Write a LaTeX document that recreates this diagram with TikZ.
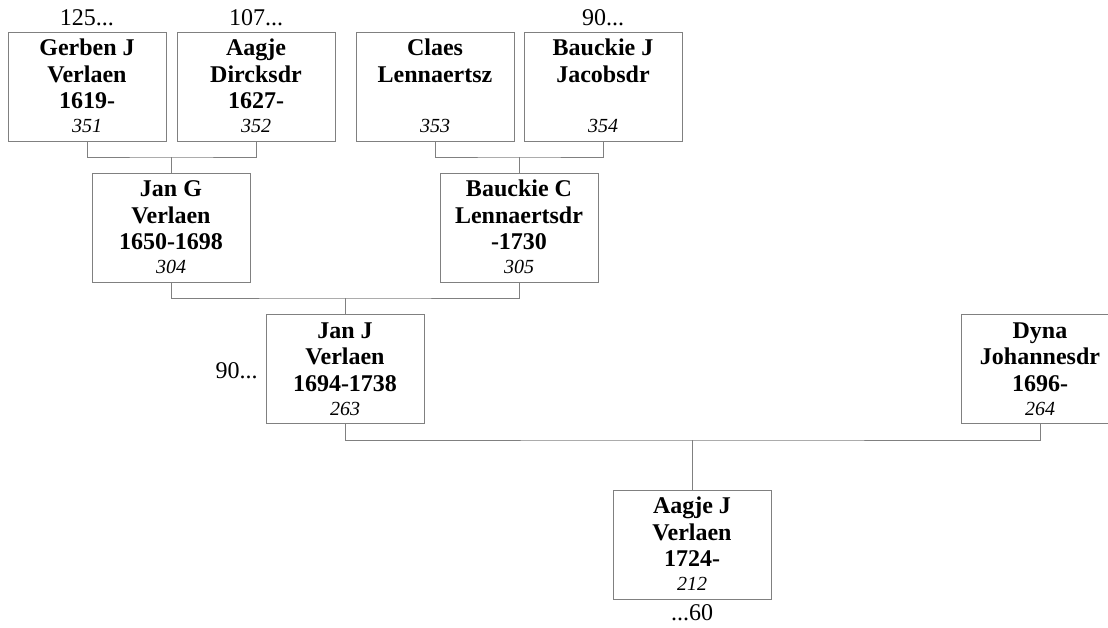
\documentclass[tikz,border=0pt]{standalone}
\usepackage{fontspec}
\setmainfont{Liberation Serif}
\definecolor{linegray}{RGB}{128,128,128}
\tikzset{
  pbox/.style={draw=linegray, line width=0.75pt, minimum width=118.5pt, minimum height=81.75pt, inner sep=0pt},
  nametext/.style={font=\fontsize{18}{20}\selectfont\bfseries, anchor=base, inner sep=0pt},
  numtext/.style={font=\fontsize{15}{17}\selectfont\itshape, anchor=base, inner sep=0pt},
  reftext/.style={font=\fontsize{18}{20}\selectfont, inner sep=0pt},
  conn/.style={draw=linegray, line width=0.75pt}
}
\newcommand{\personbox}[7]{%
  \node[pbox] (#1) at (#2,#3) {};
  \node[nametext] (#1a) at ([yshift=-18pt]#1.north) {#4};
  \node[nametext] (#1b) at ([yshift=-37.9pt]#1.north) {#5};
  \if\relax\detokenize{#6}\relax\else
  \node[nametext] (#1c) at ([yshift=-57.75pt]#1.north) {#6};
  \fi
  \node[numtext] (#1d) at ([yshift=-75.75pt]#1.north) {#7};
}
\begin{document}
\begin{tikzpicture}[x=0.75pt,y=-0.75pt]
\useasboundingbox (0,0) rectangle (1108,628);
% generation 1
\personbox{p351}{87}{86.5}{Gerben J}{Verlaen}{1619-}{351}
\personbox{p352}{256}{86.5}{Aagje}{Dircksdr}{1627-}{352}
\personbox{p353}{435}{86.5}{Claes}{Lennaertsz}{}{353}
\personbox{p354}{603}{86.5}{Bauckie J}{Jacobsdr}{}{354}
% generation 2
\personbox{p304}{171}{227.5}{Jan G}{Verlaen}{1650-1698}{304}
\personbox{p305}{519}{227.5}{Bauckie C}{Lennaertsdr}{-1730}{305}
% generation 3
\personbox{p263}{345}{369}{Jan J}{Verlaen}{1694-1738}{263}
\personbox{p264}{1040}{369}{Dyna}{Johannesdr}{1696-}{264}
% generation 4
\personbox{p212}{692}{544.5}{Aagje J}{Verlaen}{1724-}{212}
% reference labels
\node[reftext, anchor=base] (r351) at (87,26) {125...};
\node[reftext, anchor=base] (r352) at (256,26) {107...};
\node[reftext, anchor=base] (r354) at (603,26) {90...};
\node[reftext, anchor=base east] (r263) at (258,378) {90...};
\node[reftext, anchor=base] (r212) at (692,620) {...60};
% connectors
\coordinate (j1) at (171,157);
\coordinate (j2) at (519,157);
\coordinate (j3) at (345,298);
\coordinate (j4) at (692,440);
\draw[conn] (p351.south) |- (j1) -| (p352.south);
\draw[conn] (j1) -- (p304.north);
\draw[conn] (p353.south) |- (j2) -| (p354.south);
\draw[conn] (j2) -- (p305.north);
\draw[conn] (p304.south) |- (j3) -| (p305.south);
\draw[conn] (j3) -- (p263.north);
\draw[conn] (p263.south) |- (j4) -| (p264.south);
\draw[conn] (j4) -- (p212.north);
\end{tikzpicture}
\end{document}
